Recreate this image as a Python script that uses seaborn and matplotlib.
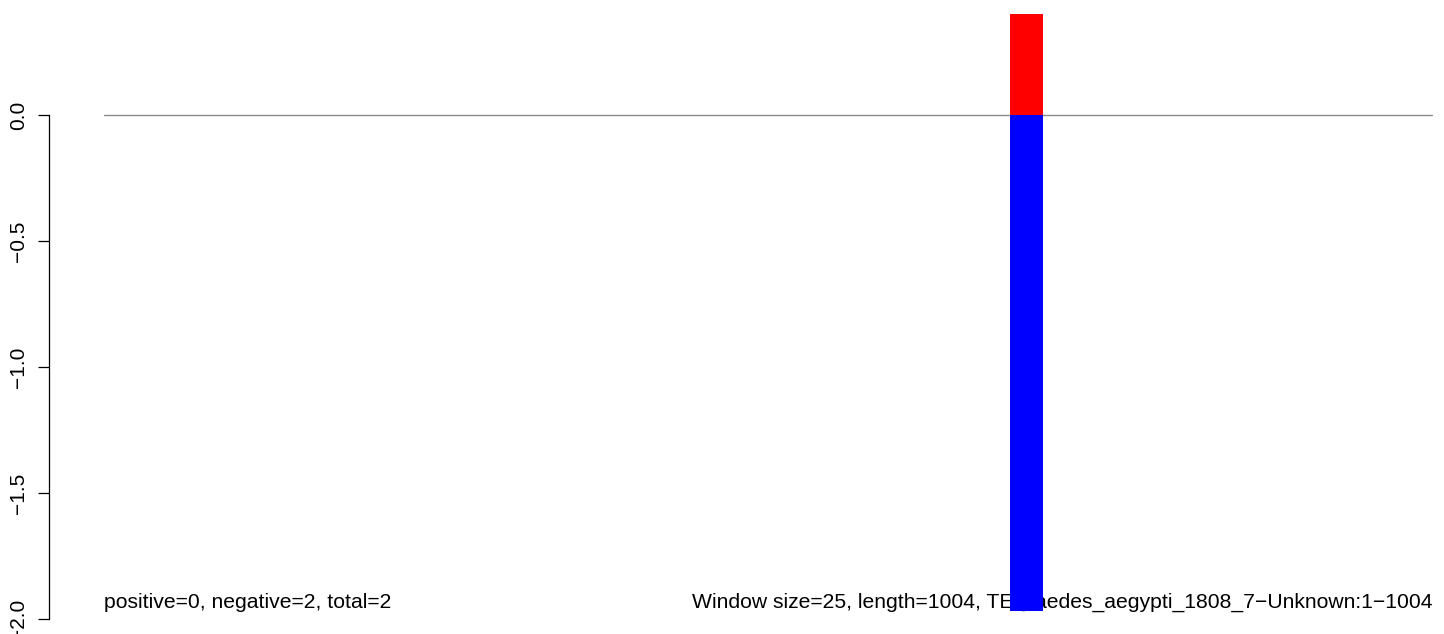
import matplotlib
matplotlib.use("Agg")
import matplotlib.pyplot as plt
import seaborn as sns
import pandas as pd

# window data
seq_length = 1004
window_size = 25
window_start = [685]
pos_values = [0.40]
neg_values = [-1.97]
y_ticks = [0.0, -0.5, -1.0, -1.5, -2.0]
y_tick_labels = ["0.0", "\u22120.5", "\u22121.0", "\u22121.5", "\u22122.0"]
left_note = "positive=0, negative=2, total=2"
right_note = "Window size=25, length=1004, TE@aedes_aegypti_1808_7\u2212Unknown:1\u22121004"

sns.set_style("white")
plt.rcParams["font.family"] = ["Liberation Sans", "DejaVu Sans"]
plt.rcParams["text.color"] = "black"
plt.rcParams["ytick.color"] = "black"

W, H = 1444, 634
fig = plt.figure(figsize=(W / 100, H / 100), dpi=100)
ax = fig.add_axes([49 / W, 0, (W - 49) / W, 1])

df = pd.DataFrame({
    "mid": [s + window_size / 2 for s in window_start],
    "pos": pos_values,
    "neg": neg_values,
})
bins = [window_start[0], window_start[0] + window_size]

# text first so the bars sit on top of it
ax.text(0, -1.956, left_note, ha="left", va="baseline", fontsize=15.2, color="black", zorder=1)
ax.text(seq_length, -1.956, right_note, ha="right", va="baseline", fontsize=15.2,
        color="black", zorder=1)

sns.lineplot(x=[0, seq_length], y=[0, 0], color="#8c8c8c", linewidth=1.0, ax=ax, zorder=2)
sns.histplot(data=df, x="mid", weights="pos", bins=bins, color="#ff0000", alpha=1,
             linewidth=0, ax=ax, zorder=3)
sns.histplot(data=df, x="mid", weights="neg", bins=bins, color="#0000ff", alpha=1,
             linewidth=0, ax=ax, zorder=3)

px_per_unit = (1432 - 104) / seq_length
ax.set_xlim((49 - 104) / px_per_unit, (W - 104) / px_per_unit)
ax.set_ylim(-(H - 115) / 252, 115 / 252)

ax.set_xticks([])
ax.set_xlabel("")
ax.set_ylabel("")
ax.set_yticks(y_ticks)
ax.set_yticklabels(y_tick_labels, rotation=90, va="center", fontsize=15, color="black")
ax.tick_params(axis="y", left=True, length=8, width=0.9, color="black", pad=7)
for s in ["top", "right", "bottom"]:
    ax.spines[s].set_visible(False)
ax.spines["left"].set_bounds(-2.0, 0.0)
ax.spines["left"].set_color("black")
ax.spines["left"].set_linewidth(0.9)

fig.savefig("out.png", dpi=100)
